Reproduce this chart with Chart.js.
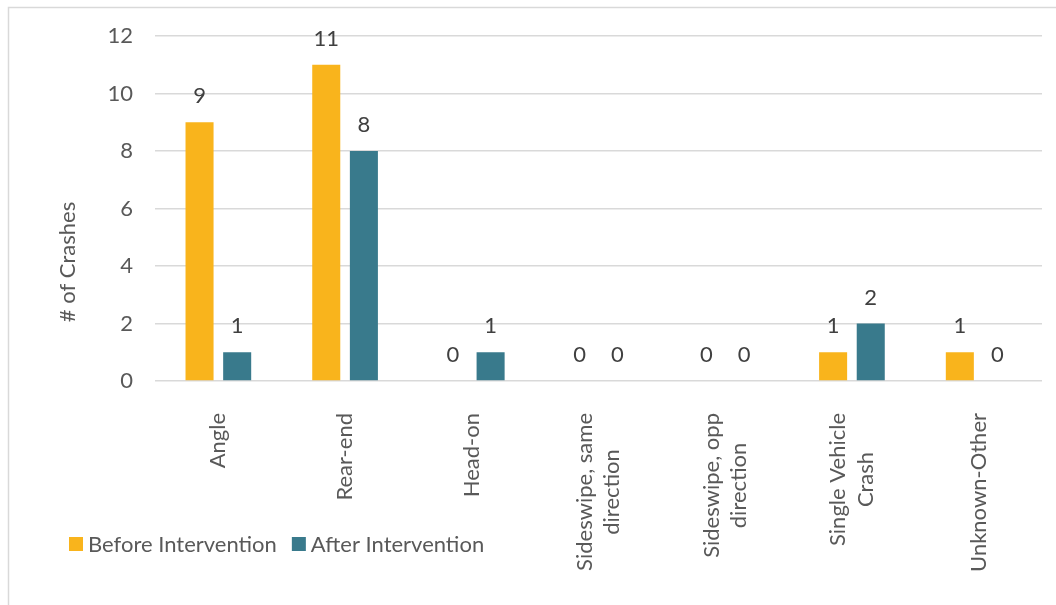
<!DOCTYPE html>
<html>
<head>
    <title>Crashes by Collision Type</title>
    <script src="https://cdn.jsdelivr.net/npm/chart.js"></script>
    <style>
        body { margin: 0; background: #fff; }
    </style>
</head>
<body>
    <canvas id="crashChart" width="1056" height="605"></canvas>
    <script>
        // collision types, multi-line where the label wraps
        var collisionTypes = [
            ['Angle'],
            ['Rear-end'],
            ['Head-on'],
            ['Sideswipe, same', 'direction'],
            ['Sideswipe, opp', 'direction'],
            ['Single Vehicle', 'Crash'],
            ['Unknown-Other']
        ];
        var beforeCounts = [9, 11, 0, 0, 0, 1, 1];
        var afterCounts = [1, 8, 1, 0, 0, 2, 0];
        var seriesNames = ['Before Intervention', 'After Intervention'];
        var yTicks = [0, 2, 4, 6, 8, 10, 12];

        var FONT = 'Lato, "Open Sans", sans-serif';
        var FONT_SIZE = 22;
        var TEXT_GRAY = '#595959';
        var GRID_GRAY = '#d9d9d9';

        // frame around the whole chart (only top and left edges are visible)
        var framePlugin = {
            id: 'frame',
            beforeDraw: function (chart) {
                var ctx = chart.ctx;
                ctx.save();
                ctx.strokeStyle = GRID_GRAY;
                ctx.lineWidth = 1.5;
                ctx.strokeRect(8.5, 7.5, chart.width + 20, chart.height + 20);
                ctx.restore();
            }
        };

        // value above each bar
        var valueLabels = {
            id: 'valueLabels',
            afterDatasetsDraw: function (chart) {
                var ctx = chart.ctx;
                ctx.save();
                ctx.font = FONT_SIZE + 'px ' + FONT;
                ctx.fillStyle = '#404040';
                ctx.textAlign = 'center';
                ctx.textBaseline = 'middle';
                chart.data.datasets.forEach(function (ds, di) {
                    var meta = chart.getDatasetMeta(di);
                    meta.data.forEach(function (bar, i) {
                        ctx.fillText(String(ds.data[i]), bar.x, bar.y - 26);
                    });
                });
                ctx.restore();
            }
        };

        // rotated category labels, lines centred on each other
        var categoryLabels = {
            id: 'categoryLabels',
            afterDraw: function (chart) {
                var ctx = chart.ctx;
                var xScale = chart.scales.x;
                var top = chart.chartArea.bottom + 32;
                var lineHeight = 27.5;
                ctx.save();
                ctx.font = FONT_SIZE + 'px ' + FONT;
                ctx.fillStyle = TEXT_GRAY;
                ctx.textAlign = 'center';
                ctx.textBaseline = 'middle';
                chart.data.labels.forEach(function (lines, i) {
                    var x = xScale.getPixelForTick(i);
                    var maxW = 0;
                    lines.forEach(function (l) { maxW = Math.max(maxW, ctx.measureText(l).width); });
                    ctx.save();
                    ctx.translate(x, top);
                    ctx.rotate(-Math.PI / 2);
                    lines.forEach(function (l, j) {
                        ctx.fillText(l, -maxW / 2, (j - (lines.length - 1) / 2) * lineHeight);
                    });
                    ctx.restore();
                });
                ctx.restore();
            }
        };

        // y axis title and legend
        var extras = {
            id: 'extras',
            afterDraw: function (chart) {
                var ctx = chart.ctx;
                ctx.save();
                ctx.font = FONT_SIZE + 'px ' + FONT;
                ctx.fillStyle = TEXT_GRAY;
                ctx.textAlign = 'center';
                ctx.textBaseline = 'middle';
                ctx.save();
                ctx.translate(68, 262);
                ctx.rotate(-Math.PI / 2);
                ctx.fillText('# of Crashes', 0, 0);
                ctx.restore();

                ctx.textAlign = 'left';
                var x = 69;
                var y = 544;
                chart.data.datasets.forEach(function (ds) {
                    ctx.fillStyle = ds.backgroundColor;
                    ctx.fillRect(x, y - 7, 14, 14);
                    ctx.fillStyle = TEXT_GRAY;
                    ctx.fillText(ds.label, x + 19, y + 1);
                    x += 19 + ctx.measureText(ds.label).width + 15;
                });
                ctx.restore();
            }
        };

        var ctx = document.getElementById('crashChart').getContext('2d');
        var crashChart = new Chart(ctx, {
            type: 'bar',
            data: {
                labels: collisionTypes,
                datasets: [{
                    label: seriesNames[0],
                    data: beforeCounts,
                    backgroundColor: '#f9b41c'
                }, {
                    label: seriesNames[1],
                    data: afterCounts,
                    backgroundColor: '#397a8c'
                }]
            },
            options: {
                responsive: false,
                animation: false,
                layout: { padding: { top: 36, right: 14, left: 0, bottom: 0 } },
                datasets: {
                    bar: { categoryPercentage: 0.594, barPercentage: 0.745 }
                },
                plugins: {
                    legend: { display: false },
                    tooltip: { enabled: false }
                },
                scales: {
                    x: {
                        grid: { display: false },
                        border: { display: false },
                        ticks: { display: false },
                        afterFit: function (scale) { scale.height = 224; }
                    },
                    y: {
                        min: 0,
                        max: 12,
                        afterBuildTicks: function (scale) {
                            scale.ticks = yTicks.map(function (v) { return { value: v }; });
                        },
                        grid: { color: GRID_GRAY, lineWidth: 1.5, drawTicks: false },
                        border: { display: false },
                        ticks: {
                            padding: 22,
                            color: TEXT_GRAY,
                            font: { family: FONT, size: FONT_SIZE }
                        },
                        afterFit: function (scale) { scale.width = 155; }
                    }
                }
            },
            plugins: [framePlugin, valueLabels, categoryLabels, extras]
        });
    </script>
</body>
</html>
